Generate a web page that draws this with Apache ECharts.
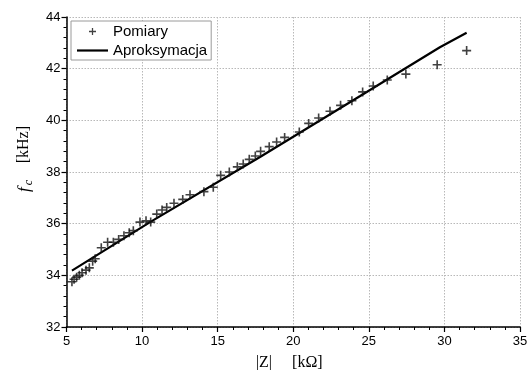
<!DOCTYPE html>
<html>
<head>
<meta charset="utf-8">
<script src="https://cdn.jsdelivr.net/npm/echarts@6/dist/echarts.min.js"></script>
<style>html,body{margin:0;padding:0;background:#fff}#c{width:529px;height:370px}</style>
</head>
<body>
<div id="c"></div>
<script>
// Measurements (Pomiary): |Z| in kOhm, f_c in kHz
const measX = [5.36, 5.5, 5.67, 5.85, 6.03, 6.29, 6.51, 6.73, 6.9, 7.3, 7.72, 8.1, 8.45, 8.8, 9.15, 9.42, 9.86, 10.26, 10.57, 10.97,
  11.32, 11.63, 12.11, 12.69, 13.17, 14.09, 14.71, 15.2, 15.77, 16.3, 16.69, 17.09, 17.49,
  17.84, 18.41, 18.9, 19.43, 20.4, 21.02, 21.68, 22.43, 23.13, 23.88,
  24.59, 25.29, 26.22, 27.45, 29.52, 31.47];
const measY = [33.75, 33.85, 33.93, 34.0, 34.1, 34.2, 34.29, 34.55, 34.64, 35.07, 35.28, 35.28, 35.39, 35.53, 35.65, 35.73, 36.06, 36.11, 36.06, 36.37,
  36.53, 36.63, 36.79, 36.94, 37.12, 37.24, 37.41, 37.87, 38.0, 38.2, 38.31, 38.49, 38.62,
  38.8, 38.98, 39.16, 39.34, 39.55, 39.88, 40.09, 40.35, 40.58, 40.76,
  41.1, 41.33, 41.56, 41.79, 42.15, 42.7];
// Approximation (Aproksymacja) line points
const fitX = [5.36, 10.5, 17.8, 24.4, 29.7, 31.47];
const fitY = [34.18, 36.05, 38.58, 40.93, 42.83, 43.39];
const xTicks = [5, 10, 15, 20, 25, 30, 35];
const yTicks = [32, 34, 36, 38, 40, 42, 44];

const plusPath = 'path://M0,4.1H10V5.9H0Z M4.1,0H5.9V10H4.1Z';
const legendPlus = 'path://M-5,-5 M0,4.1H10V5.9H0Z M4.1,0H5.9V10H4.1Z M15,15';
const legendLine = 'path://M0,0 M0,5.9H31V8.1H0Z M31,14';
const chart = echarts.init(document.getElementById('c'), null, {renderer: 'canvas'});
const sans = 'Liberation Sans, Arial, sans-serif';
const serif = 'Liberation Serif, Times New Roman, serif';
const axisCommon = {
  axisLine: {show: true, onZero: false, lineStyle: {color: '#000', width: 1.5}},
  axisTick: {show: true, inside: false, length: 5, lineStyle: {color: '#000', width: 1.2}},
  minorTick: {show: true, splitNumber: 5, length: 3, lineStyle: {color: '#000', width: 1}},
  splitLine: {show: true, lineStyle: {color: '#b8b8b8', type: [1.5, 1.5], width: 1}},
  axisLabel: {color: '#000', fontFamily: sans, fontSize: 13}
};
chart.setOption({
  animation: false,
  backgroundColor: '#fff',
  grid: {left: 66.5, right: 9, top: 17, bottom: 43, containLabel: false, outerBoundsMode: 'none'},
  legend: {
    left: 71, top: 21, orient: 'vertical',
    backgroundColor: '#fff', borderColor: '#9a9a9a', borderWidth: 1,
    padding: [3, 4, 2, 6], itemGap: 4, itemWidth: 31, itemHeight: 14,
    textStyle: {fontFamily: sans, fontSize: 15, color: '#000'},
    data: [
      {name: 'Pomiary', icon: legendPlus},
      {name: 'Aproksymacja', icon: legendLine}
    ]
  },
  xAxis: Object.assign({
    type: 'value', min: xTicks[0], max: xTicks[xTicks.length - 1], interval: 5,
    name: '|Z|     [kΩ]', nameLocation: 'middle', nameGap: 28,
    nameTextStyle: {fontFamily: serif, fontSize: 16, color: '#000', padding: [0, 8, 0, 0]}
  }, axisCommon, {axisLabel: Object.assign({}, axisCommon.axisLabel, {margin: 8})}),
  yAxis: Object.assign({
    type: 'value', min: yTicks[0], max: yTicks[yTicks.length - 1], interval: 2,
    name: '{f|f}{s|c}     {n|[kHz]}', nameLocation: 'middle', nameGap: 21, nameRotate: 90,
    nameTextStyle: {
      color: '#000',
      padding: [0, 0, 0, 26],
      rich: {
        f: {fontFamily: serif, fontStyle: 'italic', fontSize: 17, color: '#000'},
        s: {fontFamily: serif, fontStyle: 'italic', fontSize: 12, color: '#000', padding: [10, 0, 0, 2]},
        n: {fontFamily: serif, fontSize: 16, color: '#000'}
      }
    }
  }, axisCommon, {axisLabel: Object.assign({}, axisCommon.axisLabel, {margin: 6})}),
  series: [
    {
      name: 'Pomiary', type: 'scatter', symbol: plusPath, symbolSize: 9, symbolKeepAspect: true,
      itemStyle: {color: '#111'},
      data: measX.map((x, i) => [x, measY[i]]), z: 3
    },
    {
      name: 'Aproksymacja', type: 'line', symbol: 'none', showSymbol: false,
      lineStyle: {color: '#000', width: 2.2},
      itemStyle: {color: '#000'},
      data: fitX.map((x, i) => [x, fitY[i]]), z: 2
    }
  ]
});
</script>
</body>
</html>
